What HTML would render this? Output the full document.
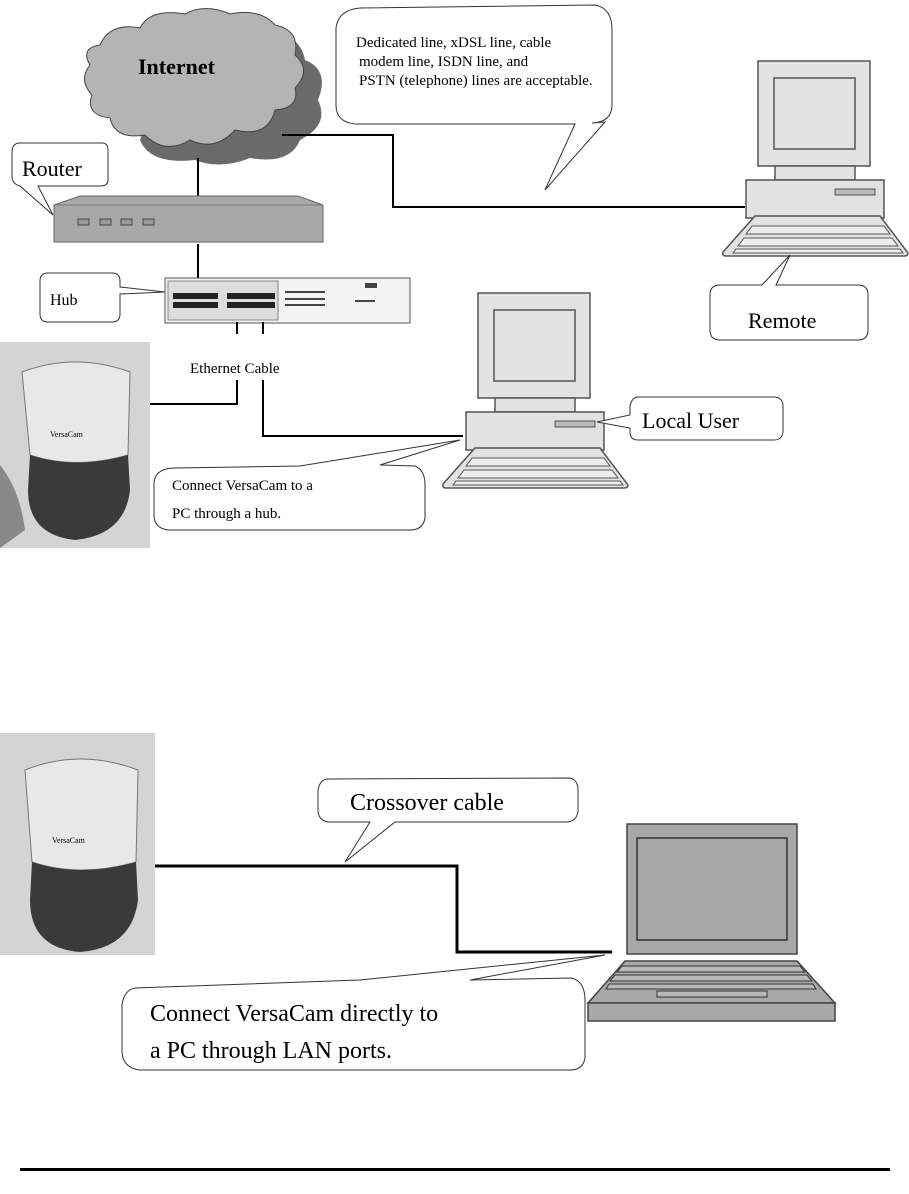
<!DOCTYPE html>
<html><head><style>
html,body{margin:0;padding:0;background:#fff;}
svg{display:block;}
text{font-family:"Liberation Serif",serif;fill:#000;}
</style></head><body>
<svg width="909" height="1194" viewBox="0 0 909 1194" xmlns="http://www.w3.org/2000/svg">
<defs>
<g id="pc">
  <rect x="478" y="293" width="112" height="105" fill="#e2e2e2" stroke="#555" stroke-width="1.5"/>
  <rect x="494" y="310" width="81" height="71" fill="#e2e2e2" stroke="#555" stroke-width="1.5"/>
  <rect x="495" y="398" width="80" height="14" fill="#e2e2e2" stroke="#555" stroke-width="1.5"/>
  <rect x="466" y="412" width="138" height="38" fill="#e2e2e2" stroke="#555" stroke-width="1.5"/>
  <rect x="555" y="421" width="40" height="6" fill="#bbb" stroke="#555"/>
  <path d="M475,448 L600,448 L628,485 Q628,488 624,488 L446,488 Q442,488 443,484 Z" fill="#e2e2e2" stroke="#555" stroke-width="1.5"/>
  <path d="M472,458 L604,458 L610,466 L466,466 Z" fill="#eee" stroke="#555"/>
  <path d="M464,470 L612,470 L618,478 L458,478 Z" fill="#eee" stroke="#555"/>
  <path d="M456,481 L620,481 L623,485 L453,485 Z" fill="#eee" stroke="#555"/>
</g>
</defs>

<path d="M170,50 Q200,20 250,25 Q300,30 305,60 Q330,70 318,100 Q330,125 300,140 Q290,165 250,158 Q220,170 195,160 Q150,165 140,140 Z" fill="#6a6a6a"/>
<path d="M100,45 Q110,22 140,28 Q150,8 185,14 Q205,3 230,14 Q260,8 275,25 Q300,30 295,55 Q312,70 295,88 Q300,108 275,110 Q268,138 235,130 Q215,152 190,140 Q165,155 145,135 Q115,140 110,118 Q85,115 92,95 Q78,80 90,65 Q80,48 100,45 Z" fill="#b4b4b4" stroke="#444" stroke-width="1"/>
<text x="138" y="74" font-size="22" font-weight="bold">Internet</text>

<line x1="198" y1="158" x2="198" y2="196" stroke="#000" stroke-width="2"/>
<line x1="198" y1="244" x2="198" y2="278" stroke="#000" stroke-width="2"/>
<polyline points="282,135 393,135 393,207 745,207" fill="none" stroke="#000" stroke-width="2"/>

<path d="M54,205 L80,196 L298,196 L323,205 L323,242 L54,242 Z" fill="#a8a8a8" stroke="#666"/>
<line x1="54" y1="205" x2="323" y2="205" stroke="#777"/>
<rect x="78" y="219" width="11" height="6" fill="#999" stroke="#444"/>
<rect x="100" y="219" width="11" height="6" fill="#999" stroke="#444"/>
<rect x="121" y="219" width="11" height="6" fill="#999" stroke="#444"/>
<rect x="143" y="219" width="11" height="6" fill="#999" stroke="#444"/>

<path d="M20,143 L102,143 Q108,143 108,150 L108,180 Q108,186 100,186 L38,186 L53,215 L20,186 Q12,184 12,176 L12,152 Q12,143 20,143 Z" fill="#fff" stroke="#333"/>
<text x="22" y="176" font-size="22">Router</text>

<rect x="165" y="278" width="245" height="45" fill="#f4f4f4" stroke="#555"/>
<rect x="168" y="281" width="110" height="39" fill="#ddd" stroke="#888"/>
<g fill="#222">
  <rect x="173" y="293" width="45" height="6"/><rect x="173" y="302" width="45" height="6"/>
  <rect x="227" y="293" width="48" height="6"/><rect x="227" y="302" width="48" height="6"/>
</g>
<g fill="#444"><rect x="285" y="291" width="40" height="2"/><rect x="285" y="298" width="40" height="2"/><rect x="285" y="304" width="40" height="2"/><rect x="355" y="300" width="20" height="2"/><rect x="365" y="283" width="12" height="5"/></g>

<path d="M48,273 L112,273 Q120,273 120,281 L120,287 L165,292 L120,294 L120,314 Q120,322 112,322 L48,322 Q40,322 40,314 L40,281 Q40,273 48,273 Z" fill="#fff" stroke="#333"/>
<text x="50" y="305" font-size="16">Hub</text>

<path d="M360,8 L595,5 Q612,8 612,30 L612,105 Q612,122 592,123 L605,122 L545,190 L575,124 L355,124 Q336,122 336,105 L336,28 Q338,10 360,8 Z" fill="#fff" stroke="#333"/>
<text font-size="15"><tspan x="356" y="47">Dedicated line, xDSL line, cable</tspan><tspan x="359" y="66">modem line, ISDN line, and</tspan><tspan x="359" y="85">PSTN (telephone) lines are acceptable.</tspan></text>

<use href="#pc" transform="translate(280,-232)"/>
<path d="M720,285 L762,285 L790,255 L776,285 L858,285 Q868,285 868,295 L868,330 Q868,340 858,340 L720,340 Q710,340 710,330 L710,295 Q710,285 720,285 Z" fill="#fff" stroke="#333"/>
<text x="748" y="328" font-size="22">Remote</text>

<use href="#pc"/>
<path d="M638,397 L775,397 Q783,398 783,406 L783,432 Q782,440 774,440 L638,440 Q630,440 630,432 L630,428 L597,422 L630,415 L630,406 Q632,397 638,397 Z" fill="#fff" stroke="#333"/>
<text x="642" y="428" font-size="22">Local User</text>

<text x="190" y="373" font-size="15">Ethernet Cable</text>
<polyline points="237,322 237,334" fill="none" stroke="#000" stroke-width="2"/>
<polyline points="263,322 263,334" fill="none" stroke="#000" stroke-width="2"/>
<polyline points="237,380 237,404 150,404" fill="none" stroke="#000" stroke-width="2"/>
<polyline points="263,380 263,436 463,436" fill="none" stroke="#000" stroke-width="2"/>

<rect x="0" y="342" width="150" height="206" fill="#d4d4d4"/>
<path d="M22,372 Q75,352 130,372 L128,455 Q75,470 30,455 Z" fill="#e8e8e8" stroke="#777"/>
<path d="M30,455 Q75,470 128,455 L130,490 Q125,535 75,540 Q28,535 28,490 Z" fill="#3a3a3a"/>
<path d="M0,465 Q20,490 25,530 L0,548 Z" fill="#888"/>
<text x="50" y="437" font-size="8" fill="#333">VersaCam</text>

<path d="M175,468 L300,466 L460,440 L380,465 L415,466 Q425,470 425,485 L425,518 Q423,530 410,530 L168,530 Q154,528 154,515 L154,482 Q156,468 175,468 Z" fill="#fff" stroke="#333"/>
<text font-size="15"><tspan x="172" y="490">Connect VersaCam to a</tspan><tspan x="172" y="518">PC through a hub.</tspan></text>

<rect x="0" y="733" width="155" height="222" fill="#d4d4d4"/>
<path d="M25,770 Q80,748 138,770 L136,862 Q80,878 32,862 Z" fill="#e8e8e8" stroke="#777"/>
<path d="M32,862 Q80,878 136,862 L138,900 Q132,948 80,952 Q30,948 30,900 Z" fill="#3a3a3a"/>
<text x="52" y="843" font-size="8" fill="#333">VersaCam</text>

<polyline points="155,866 457,866 457,952 612,952" fill="none" stroke="#000" stroke-width="3"/>

<path d="M328,779 L570,778 Q578,780 578,790 L578,812 Q576,822 566,822 L395,822 L345,862 L370,822 L328,822 Q318,820 318,810 L318,790 Q320,779 328,779 Z" fill="#fff" stroke="#333"/>
<text x="350" y="810" font-size="24">Crossover cable</text>

<rect x="627" y="824" width="170" height="130" fill="#a8a8a8" stroke="#444" stroke-width="1.5"/>
<rect x="637" y="838" width="150" height="102" fill="#a8a8a8" stroke="#333" stroke-width="1.5"/>
<path d="M625,961 L797,961 L835,1003 L588,1003 Z" fill="#a8a8a8" stroke="#444" stroke-width="1.5"/>
<rect x="588" y="1003" width="247" height="18" fill="#a8a8a8" stroke="#444" stroke-width="1.5"/>
<path d="M622,966 L800,966 L805,972 L617,972 Z" fill="#b8b8b8" stroke="#333"/>
<path d="M615,975 L807,975 L812,981 L610,981 Z" fill="#b8b8b8" stroke="#333"/>
<path d="M609,984 L813,984 L816,989 L606,989 Z" fill="#b8b8b8" stroke="#333"/>
<rect x="657" y="991" width="110" height="6" fill="#b8b8b8" stroke="#333"/>

<path d="M135,988 L360,980 L605,955 L470,980 L572,978 Q585,982 585,1000 L585,1058 Q583,1070 570,1070 L140,1070 Q122,1068 122,1050 L122,1005 Q124,990 135,988 Z" fill="#fff" stroke="#333"/>
<text font-size="24"><tspan x="150" y="1021">Connect VersaCam directly to</tspan><tspan x="150" y="1058">a PC through LAN ports.</tspan></text>

<rect x="20" y="1168" width="870" height="3" fill="#000"/>
</svg>
</body></html>
